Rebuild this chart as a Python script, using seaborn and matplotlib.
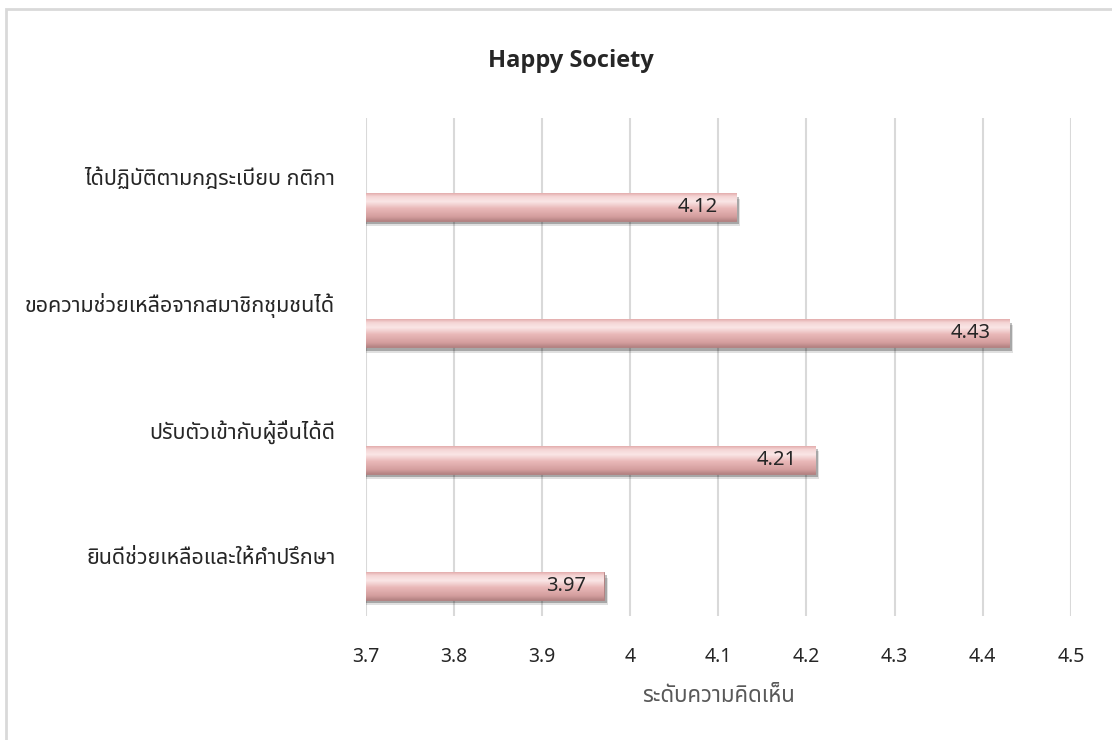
import numpy as np
import pandas as pd
import matplotlib
matplotlib.use('Agg')
import matplotlib.pyplot as plt
import seaborn as sns
from matplotlib import patheffects as pe
from matplotlib.colors import LinearSegmentedColormap
from matplotlib.patches import Rectangle

categories = ['ได้ปฏิบัติตามกฎระเบียบ กติกา',
              'ขอความช่วยเหลือจากสมาชิกชุมชนได้',
              'ปรับตัวเข้ากับผู้อื่นได้ดี',
              'ยินดีช่วยเหลือและให้คำปรึกษา']
scores = [4.12, 4.43, 4.21, 3.97]
xticks = [3.7, 3.8, 3.9, 4.0, 4.1, 4.2, 4.3, 4.4, 4.5]
xtick_labels = ['3.7', '3.8', '3.9', '4', '4.1', '4.2', '4.3', '4.4', '4.5']
title = 'Happy Society'
xlabel = 'ระดับความคิดเห็น'

sns.set_theme(style='white')
# Latin glyphs from Noto Sans, Thai ones fall through to Noto Sans Thai
plt.rcParams['font.family'] = ['Noto Sans', 'Noto Sans Thai', 'DejaVu Sans']
text_col = '#262626'

df = pd.DataFrame({'item': categories, 'score': scores})

fig = plt.figure(figsize=(11.12, 7.4), dpi=100)
ax = fig.add_axes([0.329, 0.1676, 0.634, 0.673])

sns.barplot(data=df, y='item', x='score', orient='h', color='#e3acac',
            width=0.22, ax=ax, edgecolor='#b07c7c', linewidth=0.6)

ax.set_xlim(3.7, 4.5)
ax.set_ylim(3.238, -0.705)
xmin = ax.get_xlim()[0]

# glossy pink fill, clipped to each bar, plus a soft drop shadow
bar_cmap = LinearSegmentedColormap.from_list(
    'gloss', [(0.0, '#e4aeae'), (0.12, '#f5d6d6'), (0.3, '#fae6e6'),
              (0.55, '#e9b8b8'), (0.85, '#d49e9e'), (1.0, '#b58484')])
grad = np.linspace(0, 1, 64).reshape(-1, 1)
for patch in ax.patches:
    patch.set_path_effects([
        pe.SimplePatchShadow(offset=(3, -4), shadow_rgbFace='#000000', alpha=0.12),
        pe.SimplePatchShadow(offset=(2, -2.5), shadow_rgbFace='#000000', alpha=0.25),
        pe.Normal()])
    bb = patch.get_bbox()
    im = ax.imshow(grad, extent=[max(bb.x0, xmin), bb.x1, bb.y1, bb.y0], origin='upper',
                   aspect='auto', cmap=bar_cmap, zorder=patch.get_zorder() + 0.1,
                   interpolation='bilinear')
    im.set_clip_path(patch)

ax.set_xlim(3.7, 4.5)
ax.set_ylim(3.238, -0.705)

for i, v in enumerate(scores):
    ax.annotate(f'{v:.2f}', xy=(v, i), xytext=(-13, 0), textcoords='offset points',
                ha='right', va='center', fontsize=14.5, color=text_col, zorder=5)

ax.set_xticks(xticks, labels=xtick_labels)
ax.set_yticks(np.arange(len(categories)) - 0.24, labels=categories)
ax.tick_params(axis='x', length=0, pad=22, labelsize=14, labelcolor=text_col)
ax.tick_params(axis='y', length=0, pad=22, labelsize=15.5, labelcolor=text_col)
ax.grid(axis='x', color='#d9d9d9', linewidth=1.5)
ax.set_axisbelow(True)
for s in ax.spines.values():
    s.set_visible(False)
ax.set_ylabel('')
ax.set_xlabel(xlabel, fontsize=16, color='#595959', labelpad=14)

fig.text(0.513, 0.917, title, ha='center', va='center', fontsize=17,
         fontweight='bold', color=text_col, family=['Open Sans', 'DejaVu Sans'])

# chart frame, runs off the right and bottom edges like the reference
fig.patches.append(Rectangle((0.0054, -0.05), 1.1, 1.05 - 0.0122, transform=fig.transFigure,
                             fill=False, edgecolor='#d9d9d9', linewidth=2, zorder=0))

plt.savefig('out.png', dpi=100)
